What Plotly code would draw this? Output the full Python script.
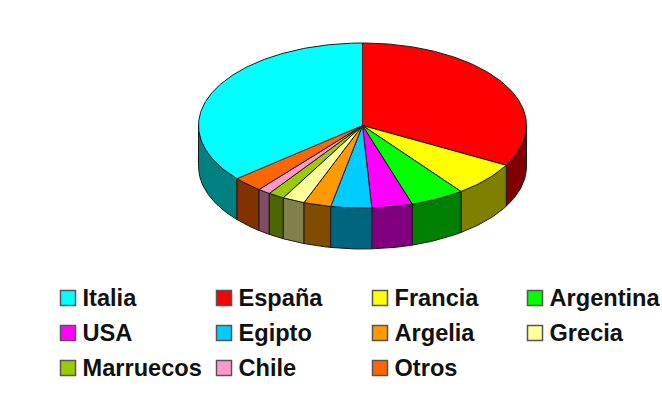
import numpy as np
import plotly.graph_objects as go

# Share of each country, percent, in clockwise order from twelve o'clock
categories = ["España", "Francia", "Argentina", "USA", "Egipto", "Argelia",
              "Grecia", "Marruecos", "Chile", "Otros", "Italia"]
values = [33.0, 6.75, 5.35, 4.0, 4.0, 2.7, 2.22, 1.6, 1.25, 3.0, 36.13]
top_colors = ["#ff0000", "#ffff00", "#00ff00", "#ff00ff", "#00ccff", "#ff9900",
              "#ffff99", "#99cc00", "#ff99cc", "#ff6600", "#00ffff"]
side_colors = ["#800000", "#808000", "#008000", "#800080", "#006680", "#804c00",
               "#80804c", "#4c6600", "#804c66", "#803300", "#008080"]
legend_order = ["Italia", "España", "Francia", "Argentina", "USA", "Egipto",
                "Argelia", "Grecia", "Marruecos", "Chile", "Otros"]

# Tilted-disc geometry, in axis units (the axes span the page in pixels)
CX, CY, RX, RY, DEPTH = 362.5, 125.5, 164, 82.5, 41
EDGE = "#1a1a1a"


def rim(angle):
    return CX + RX * np.sin(angle), CY - RY * np.cos(angle)


def arc(a0, a1):
    n = max(2, int(abs(a1 - a0) * 60))
    return rim(np.linspace(a0, a1, n))


def polygon(fig, xs, ys, color):
    fig.add_trace(go.Scatter(x=xs, y=ys, mode="lines", fill="toself", fillcolor=color,
                             line=dict(color=EDGE, width=1), showlegend=False,
                             hoverinfo="skip"))


bounds = np.radians(np.concatenate([[0], np.cumsum(values)]) / sum(values) * 360)
fig = go.Figure()

# Outer wall: only the near half of the rim is visible, painted from the sides inward
walls = []
for i in range(len(values)):
    a0, a1 = max(bounds[i], np.pi / 2), min(bounds[i + 1], 3 * np.pi / 2)
    if a1 > a0:
        walls.append((abs((a0 + a1) / 2 - np.pi), i, a0, a1))
for _, i, a0, a1 in sorted(walls, reverse=True):
    x, y = arc(a0, a1)
    polygon(fig, np.concatenate([x, x[::-1], x[:1]]),
            np.concatenate([y, y[::-1] + DEPTH, y[:1]]), side_colors[i])

# Top face wedges
for i in range(len(values)):
    x, y = arc(bounds[i], bounds[i + 1])
    polygon(fig, np.concatenate([[CX], x, [CX]]), np.concatenate([[CY], y, [CY]]), top_colors[i])

# Legend grid: swatch column centres and row centres
legend_x = [68, 224, 380, 535]
legend_y = [298, 333, 368]
for k, name in enumerate(legend_order):
    color = top_colors[categories.index(name)]
    col, row = legend_x[k % 4], legend_y[k // 4]
    fig.add_trace(go.Scatter(
        x=[col], y=[row], mode="markers",
        marker=dict(symbol="square", size=15, color=color, line=dict(color="#555555", width=1.5)),
        showlegend=False, hoverinfo="skip"))
    fig.add_trace(go.Scatter(
        x=[col + 14.5], y=[row + 2], mode="text", text=[name], textposition="middle right",
        textfont=dict(family="Liberation Sans", size=23.6, color="#111111", weight="bold"),
        showlegend=False, hoverinfo="skip"))

fig.update_layout(
    width=662, height=396, margin=dict(l=0, r=0, t=0, b=0),
    paper_bgcolor="white", plot_bgcolor="white", showlegend=False,
    xaxis=dict(range=[0, 662], visible=False, fixedrange=True),
    yaxis=dict(range=[396, 0], visible=False, fixedrange=True),
)
fig.write_html("out.html", config=dict(displayModeBar=False))
